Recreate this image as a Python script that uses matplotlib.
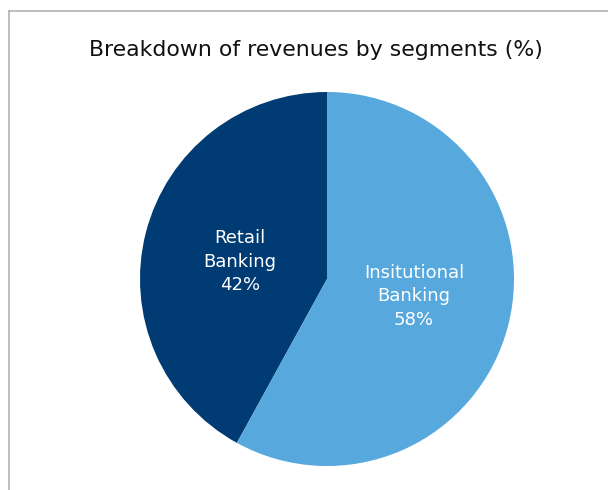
import numpy as np
import matplotlib.pyplot as plt
from matplotlib.lines import Line2D

segments = ['Retail\nBanking', 'Insitutional\nBanking']
shares = [42, 58]
colors = ['#003b73', '#56a8dd']

fig = plt.figure(figsize=(6.08, 4.90), dpi=100)

# thin grey frame on top and left
fig.add_artist(Line2D([9 / 608, 9 / 608], [0, 1 - 11 / 490], color='#b3b3b3', lw=1.2))
fig.add_artist(Line2D([9 / 608, 1], [1 - 11 / 490, 1 - 11 / 490], color='#b3b3b3', lw=1.2))

fig.text(316 / 608, 1 - 50 / 490, 'Breakdown of revenues by segments (%)',
         ha='center', va='center', fontsize=15.8, color='#111111')

ax = fig.add_axes([(327 - 187) / 608, (490 - 466) / 490, 374 / 608, 374 / 490])
wedges, _ = ax.pie(shares, colors=colors, startangle=90, counterclock=True,
                   wedgeprops=dict(linewidth=0))
ax.set_xlim(-1, 1)
ax.set_ylim(-1, 1)
ax.set_aspect('equal')

# labels sit inside each wedge, a bit less than halfway out
for w, name, val in zip(wedges, segments, shares):
    mid = np.deg2rad((w.theta1 + w.theta2) / 2)
    r = 0.48
    ax.text(r * np.cos(mid), 0.78 * r * np.sin(mid), f'{name}\n{val}%',
            ha='center', va='center', color='white', fontsize=13, linespacing=1.4)

fig.savefig('out.png', dpi=100)
